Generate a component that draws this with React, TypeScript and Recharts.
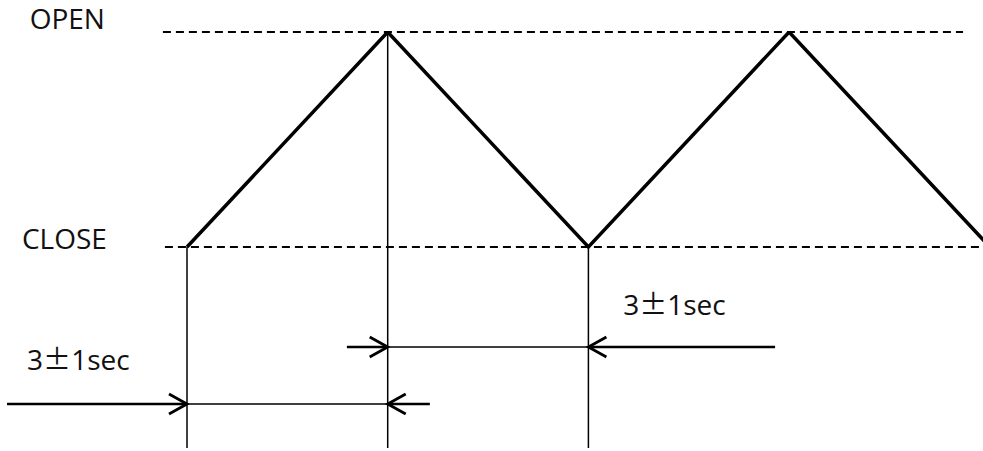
import React from 'react';
import { LineChart, Line, XAxis, YAxis, ReferenceLine, ReferenceDot } from 'recharts';

// ---- data ----
const waveTimes = [0, 3, 6, 9, 12]; // seconds
const waveLevels = [0, 1, 0, 1, 0]; // 0 = CLOSE, 1 = OPEN
const levelNames = ['CLOSE', 'OPEN'];
const levelValues = [0, 1];
const levelLineStart = [-0.33, -0.36];
const levelLineEnd = [11.89, 11.6];

const markTimes = [0, 3, 6];
const markFrom = [0, 1, 0];
const markBottom = -0.935;

const dimFrom = [0, 3];
const dimTo = [3, 6];
const dimLevel = [-0.73, -0.465];
const dimLeftTail = [-2.69, 2.39];
const dimRightTail = [3.63, 8.79];

const dimLabel = '3±1sec';
const dimLabelTime = [-2.39, 6.52];
const dimLabelLevel = [-0.572, -0.316];

const xDomain: [number, number] = [-2.795, 11.898];
const yDomain: [number, number] = [-0.935, 1];

const wave = waveTimes.map((t, i) => ({ t, v: waveLevels[i] }));

const FONT = '"Open Sans", "Noto Sans", sans-serif';
const SYM_FONT = '"Noto Sans CJK KR", "Open Sans", sans-serif';

const Arrow = (props: any) => {
  const { x1, y1, x2, y2 } = props;
  const dir = x2 >= x1 ? 1 : -1;
  return (
    <g>
      <line x1={x1} y1={y1} x2={x2} y2={y2} stroke="#000" strokeWidth={2.5} />
      <path
        d={`M ${x2 - dir * 18} ${y2 - 10} L ${x2} ${y2} L ${x2 - dir * 18} ${y2 + 10}`}
        fill="none"
        stroke="#000"
        strokeWidth={2.8}
        strokeLinejoin="miter"
      />
    </g>
  );
};

const renderParts = (txt: string) => {
  const parts = txt.split('±');
  const out: any[] = [];
  parts.forEach((p, i) => {
    if (i > 0) out.push(<tspan key={'s' + i} fontFamily={SYM_FONT}>±</tspan>);
    if (p) out.push(<tspan key={'p' + i}>{p}</tspan>);
  });
  return out;
};

const textLabel = (txt: string, dx: number, dy: number, anchor: string) => (p: any) => {
  const vb = p.viewBox || {};
  return (
    <text
      x={(vb.x || 0) + dx}
      y={(vb.y || 0) + dy}
      textAnchor={anchor}
      fontFamily={FONT}
      fontSize={28}
      fill="#111"
    >
      {renderParts(txt)}
    </text>
  );
};

export default function App() {
  return (
    <div style={{ position: 'absolute', left: 0, top: 0, background: '#fff' }}>
      <LineChart width={983} height={451} data={wave} margin={{ top: 32, right: 0, bottom: 3, left: 0 }}>
        <XAxis dataKey="t" type="number" domain={xDomain} allowDataOverflow hide />
        <YAxis type="number" domain={yDomain} allowDataOverflow hide />

        {levelValues.map((lv, i) => (
          <ReferenceLine
            key={'lvl' + i}
            segment={[
              { x: levelLineStart[i], y: lv },
              { x: levelLineEnd[i], y: lv },
            ]}
            ifOverflow="visible"
            stroke="#000"
            strokeWidth={2}
            strokeDasharray="8 5"
            label={{ content: textLabel(levelNames[i], -58, lv === 1 ? -3 : 2, 'end') } as any}
          />
        ))}

        {markTimes.map((t, i) => (
          <ReferenceLine
            key={'mk' + i}
            segment={[
              { x: t, y: markFrom[i] },
              { x: t, y: markBottom },
            ]}
            stroke="#000"
            strokeWidth={1.5}
          />
        ))}

        {dimFrom.map((f, i) => (
          <ReferenceLine
            key={'dim' + i}
            segment={[
              { x: f, y: dimLevel[i] },
              { x: dimTo[i], y: dimLevel[i] },
            ]}
            stroke="#000"
            strokeWidth={1.5}
          />
        ))}
        {dimFrom.map((f, i) => (
          <ReferenceLine
            key={'al' + i}
            segment={[
              { x: dimLeftTail[i], y: dimLevel[i] },
              { x: f, y: dimLevel[i] },
            ]}
            shape={Arrow}
          />
        ))}
        {dimTo.map((t, i) => (
          <ReferenceLine
            key={'ar' + i}
            segment={[
              { x: dimRightTail[i], y: dimLevel[i] },
              { x: t, y: dimLevel[i] },
            ]}
            shape={Arrow}
          />
        ))}

        {dimLabelTime.map((t, i) => (
          <ReferenceDot
            key={'lbl' + i}
            x={t}
            y={dimLabelLevel[i]}
            r={0}
            fill="none"
            stroke="none"
            label={{ content: textLabel(dimLabel, 0, 0, 'start') } as any}
          />
        ))}

        <Line
          type="linear"
          dataKey="v"
          stroke="#000"
          strokeWidth={3.5}
          strokeLinejoin="miter"
          dot={false}
          activeDot={false}
          isAnimationActive={false}
        />
      </LineChart>
    </div>
  );
}
